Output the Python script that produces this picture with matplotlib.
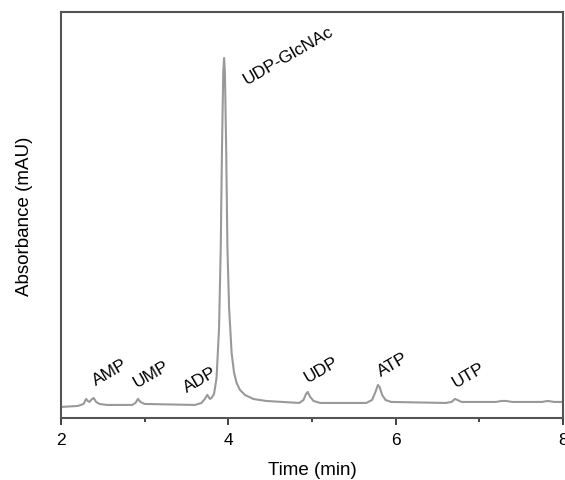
import matplotlib
matplotlib.use("Agg")
import matplotlib.pyplot as plt

plt.rcParams['font.family'] = ['Liberation Sans', 'DejaVu Sans']

# trace (time in min, absorbance in arbitrary units)
time = [2.00, 2.20, 2.27, 2.30, 2.32, 2.34, 2.36, 2.39, 2.42, 2.46, 2.55, 2.85,
        2.89, 2.92, 2.95, 3.00, 3.60, 3.68, 3.72, 3.75, 3.78, 3.80, 3.83, 3.86,
        3.89, 3.91, 3.925, 3.94, 3.95, 3.96, 3.975, 3.99, 4.01, 4.04, 4.07, 4.10,
        4.14, 4.20, 4.30, 4.45, 4.65, 4.85, 4.90, 4.93, 4.95, 4.98, 5.02, 5.10,
        5.65, 5.72, 5.76, 5.79, 5.81, 5.84, 5.88, 5.95, 6.60, 6.67, 6.71, 6.74,
        6.79, 7.20, 7.27, 7.32, 7.40, 7.75, 7.82, 7.90, 8.00]
absorbance = [11, 12, 14, 19, 17, 16, 18, 20, 16, 14, 13, 13,
              15, 19, 16, 14, 13, 15, 19, 23, 19, 20, 24, 40,
              90, 170, 270, 345, 360, 345, 270, 170, 110, 65, 45, 35,
              28, 23, 19, 17, 16, 15, 18, 24, 26, 21, 17, 15,
              15, 18, 26, 33, 31, 23, 18, 16, 15, 16, 19, 18,
              16, 16, 17, 17, 16, 16, 17, 16, 16]

peak_names = ["AMP", "UMP", "ADP", "UDP-GlcNAc", "UDP", "ATP", "UTP"]
label_t = [2.43, 2.92, 3.53, 4.24, 4.97, 5.85, 6.74]
label_y = [30, 28, 23, 331, 33, 39, 28]

fig = plt.figure(figsize=(5.65, 4.81), dpi=100)
ax = fig.add_axes([0.108, 0.129, 0.888, 0.844])

ax.plot(time, absorbance, color='#999999', lw=1.5)

for name, t, y in zip(peak_names, label_t, label_y):
    ax.text(t, y, name, rotation=30, rotation_mode='anchor',
            ha='left', va='bottom', fontsize=12.5, color='#000000')

ax.set_xlim(2, 8)
ax.set_ylim(0, 406)
ax.set_xticks([2, 4, 6, 8])
ax.set_xticks([3, 5, 7], minor=True)
ax.set_yticks([])
ax.tick_params(axis='x', which='major', direction='out', length=5, width=1.3,
               labelsize=12.5, colors='#333333', labelcolor='#000000', pad=5)
ax.tick_params(axis='x', which='minor', direction='out', length=3, width=1.3,
               colors='#333333')
for s in ax.spines.values():
    s.set_color('#555555')
    s.set_linewidth(1.5)

ax.set_xlabel("Time (min)", fontsize=13.5, labelpad=10)
ax.set_ylabel("Absorbance (mAU)", fontsize=13.5, labelpad=20)

plt.savefig("out.png", dpi=100)
